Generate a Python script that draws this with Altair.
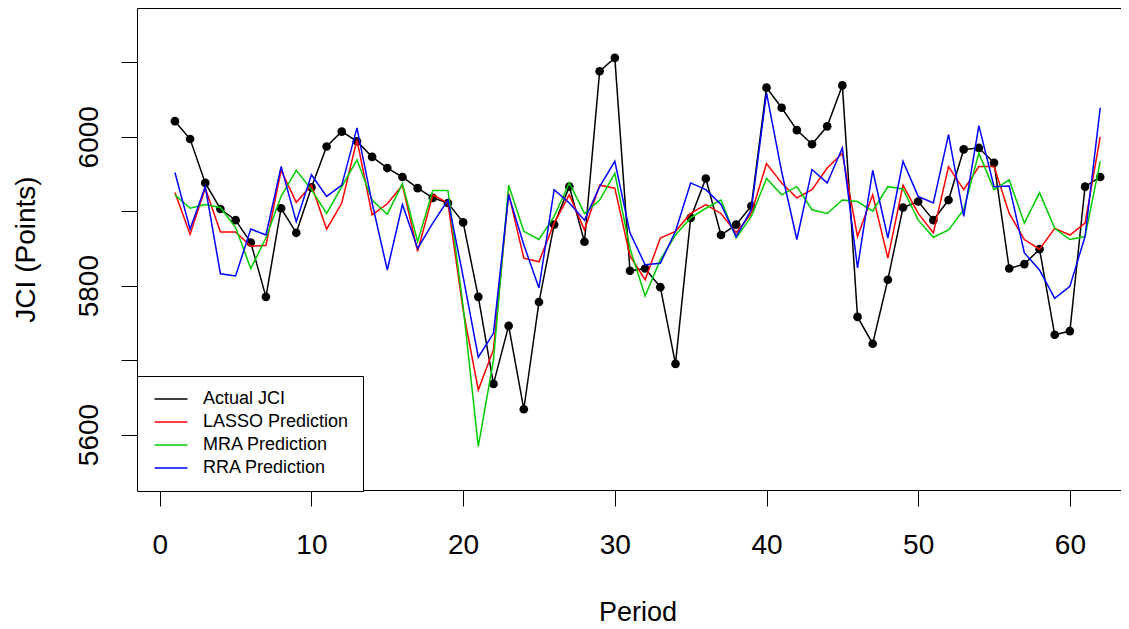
import altair as alt
import pandas as pd

periods = list(range(1, 63))

actual = [6021, 5997, 5938, 5903, 5888, 5858, 5785, 5904, 5871, 5932,
          5987, 6007, 5994, 5973, 5958, 5946, 5931, 5918, 5911, 5885,
          5785, 5668, 5746, 5634, 5778, 5882, 5933, 5859, 6088, 6106,
          5820, 5823, 5798, 5695, 5891, 5944, 5868, 5882, 5907, 6066,
          6039, 6009, 5990, 6014, 6069, 5758, 5722, 5808, 5905, 5913,
          5888, 5915, 5983, 5985, 5965, 5823, 5829, 5849, 5734, 5739,
          5933, 5946]

lasso = [5925, 5869, 5931, 5872, 5872, 5853, 5854, 5955, 5912, 5935,
         5876, 5911, 5996, 5895, 5910, 5935, 5846, 5922, 5911, 5767,
         5660, 5714, 5924, 5837, 5832, 5884, 5922, 5875, 5935, 5931,
         5840, 5808, 5864, 5873, 5897, 5909, 5897, 5871, 5897, 5964,
         5938, 5918, 5929, 5958, 5978, 5866, 5922, 5837, 5935, 5897,
         5871, 5960, 5929, 5960, 5960, 5897, 5862, 5849, 5877, 5868,
         5884, 6000]

mra = [5922, 5904, 5909, 5905, 5878, 5823, 5864, 5920, 5955, 5929,
       5897, 5933, 5969, 5915, 5896, 5937, 5859, 5928, 5928, 5772,
       5584, 5700, 5935, 5873, 5862, 5893, 5938, 5897, 5915, 5951,
       5850, 5786, 5835, 5868, 5891, 5904, 5915, 5864, 5893, 5944,
       5922, 5933, 5902, 5897, 5915, 5913, 5900, 5933, 5930, 5888,
       5865, 5875, 5902, 5978, 5929, 5942, 5884, 5925, 5877, 5862,
       5866, 5967]

rra = [5952, 5876, 5933, 5816, 5813, 5876, 5868, 5960, 5886, 5949,
       5920, 5935, 6012, 5911, 5821, 5909, 5850, 5884, 5915, 5812,
       5704, 5736, 5922, 5855, 5797, 5929, 5911, 5888, 5933, 5967,
       5871, 5828, 5830, 5873, 5938, 5929, 5909, 5866, 5902, 6059,
       5953, 5862, 5956, 5938, 5985, 5824, 5955, 5864, 5967, 5920,
       5911, 6003, 5893, 6015, 5933, 5934, 5844, 5821, 5783, 5799,
       5866, 6039]

series_names = ["Actual JCI", "LASSO Prediction", "MRA Prediction", "RRA Prediction"]
series_colors = ["#000000", "#FF0000", "#00CD00", "#0000FF"]
x_ticks = [0, 10, 20, 30, 40, 50, 60]
y_ticks = [5600, 5700, 5800, 5900, 6000, 6100]

rows = []
for name, vals in zip(series_names, [actual, lasso, mra, rra]):
    for p, v in zip(periods, vals):
        rows.append({"Period": p, "JCI": v, "Series": name})
df = pd.DataFrame(rows)

W, H = 984, 482
FONT = "Liberation Sans"

xscale = alt.Scale(domain=[-1.5, 63.37], nice=False, zero=False)
yscale = alt.Scale(domain=[5525.5, 6173], nice=False, zero=False)
color_scale = alt.Scale(domain=series_names, range=series_colors)

legend = alt.Legend(
    orient="none", legendX=0, legendY=368, title=None,
    fillColor="white", strokeColor="black", cornerRadius=0,
    padding=14, symbolType="M-3,0H3", symbolSize=121, symbolStrokeWidth=1.5,
    symbolOffset=11, labelOffset=23, labelFontSize=18, labelFont=FONT,
    labelColor="black", rowPadding=5, labelLimit=400,
)

x_axis_bottom = alt.Axis(
    values=x_ticks, grid=False, tickSize=16, tickColor="black", tickWidth=1,
    domainColor="black", domainWidth=1, labelFontSize=28, labelPadding=25,
    labelFlush=False, labelOverlap=False, labelColor="black", labelFont=FONT,
    title="Period", titleFontSize=27, titleFont=FONT, titleFontWeight="normal",
    titleColor="black", titleX=500.5, titleY=130, titleAlign="center",
    titleBaseline="alphabetic",
)
x_axis_top = alt.Axis(
    orient="top", labels=False, ticks=False, grid=False, title=None,
    domainColor="black", domainWidth=1,
)
y_axis = alt.Axis(
    values=y_ticks, format="d",
    labelExpr="datum.value % 200 == 0 ? datum.label : ''",
    grid=False, tickSize=16, tickColor="black", tickWidth=1,
    domainColor="black", domainWidth=1, labelFontSize=28, labelPadding=24,
    labelAngle=270, labelAlign="center", labelBaseline="alphabetic",
    labelOverlap=False, labelFlush=False, labelColor="black", labelFont=FONT,
    title="JCI (Points)", titleFontSize=28, titleFont=FONT,
    titleFontWeight="normal", titleColor="black", titleAngle=270,
    titleX=-103, titleY=241, titleAlign="center", titleBaseline="alphabetic",
)

base = alt.Chart(df)

actual_line = base.transform_filter(alt.datum.Series == "Actual JCI").mark_line(
    strokeWidth=1.5
).encode(
    x=alt.X("Period:Q", scale=xscale, axis=x_axis_bottom),
    y=alt.Y("JCI:Q", scale=yscale, axis=y_axis),
    color=alt.Color("Series:N", scale=color_scale, legend=legend),
)

actual_pts = base.transform_filter(alt.datum.Series == "Actual JCI").mark_point(
    filled=True, size=75, opacity=1, color="black"
).encode(
    x=alt.X("Period:Q", scale=xscale, axis=x_axis_top),
    y=alt.Y("JCI:Q", scale=yscale, axis=y_axis),
)

pred_lines = base.transform_filter(alt.datum.Series != "Actual JCI").mark_line(
    strokeWidth=1.5
).encode(
    x=alt.X("Period:Q", scale=xscale, axis=None),
    y=alt.Y("JCI:Q", scale=yscale, axis=y_axis),
    color=alt.Color("Series:N", scale=color_scale, legend=legend),
)

chart = alt.layer(actual_line, actual_pts, pred_lines).resolve_axis(
    x="independent"
).properties(
    width=W, height=H,
    autosize=alt.AutoSizeParams(type="none"),
    padding={"left": 129, "top": 0, "right": 0, "bottom": 135},
).configure_view(stroke=None).configure_legend(strokeWidth=1)

chart.save("out.html", embed_options={"renderer": "svg", "actions": False})
